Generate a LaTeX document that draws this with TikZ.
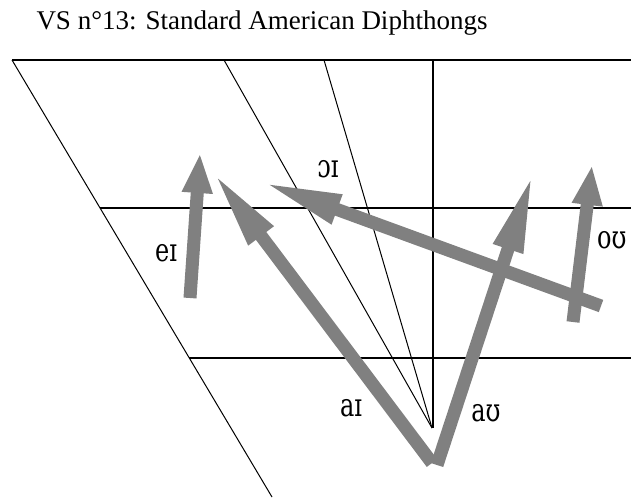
\documentclass[tikz,border=0pt]{standalone}
\usepackage{fontspec}
\setmainfont{Liberation Serif}
\newfontfamily\ipafont{DejaVu Serif}
\usepackage{graphicx}
\usetikzlibrary{arrows.meta}
\definecolor{glidegray}{HTML}{808080}
\newcommand{\vowelsym}[1]{\scalebox{0.75}[1]{#1}}

\begin{document}
\begin{tikzpicture}[x=1pt, y=-1pt,
  every node/.style={inner sep=0pt},
  chartline/.style={line width=1pt},
  levelline/.style={line width=1.4pt},
  glide/.style={draw=glidegray, line width=13pt, -{Triangle[length=40pt,width=28pt]}},
  longglide/.style={glide, -{Triangle[length=80pt,width=28pt]}},
  vowel/.style={font=\ipafont\fontsize{32}{32}\selectfont}]
  \useasboundingbox (0,0) rectangle (631,499);
  \node[font=\fontsize{27}{27}\selectfont, anchor=base] (title) at (262,29) {VS n°13: Standard American Diphthongs};

  % vowel chart
  \draw[levelline] (12,60) -- (631,60);
  \draw[levelline] (100,208) -- (631,208);
  \draw[levelline] (189,358) -- (631,358);
  \draw[chartline] (12,60) -- (272,497);
  \draw[chartline] (224,60) -- (432,428);
  \draw[chartline] (324,60) -- (432,428);
  \draw[levelline] (433,60) -- (433,428);

  % diphthong glides
  \coordinate (oi-start) at (601,306);
  \coordinate (oi-end) at (262,182);
  \coordinate (ai-start) at (432,463);
  \coordinate (ai-end) at (213,172);
  \coordinate (au-start) at (437,465);
  \coordinate (au-end) at (533,173);
  \coordinate (ei-start) at (190,298);
  \coordinate (ei-end) at (200,153);
  \coordinate (ou-start) at (573,322);
  \coordinate (ou-end) at (592,165);
  \draw[longglide] (oi-start) -- (oi-end);
  \draw[longglide] (ai-start) -- (ai-end);
  \draw[longglide] (au-start) -- (au-end);
  \draw[glide] (ei-start) -- (ei-end);
  \draw[glide] (ou-start) -- (ou-end);

  % labels
  \node[vowel] (ei-label) at (166,253) {\vowelsym{eɪ}};
  \node[vowel] (oi-label) at (328,169) {\vowelsym{ɔɪ}};
  \node[vowel] (ai-label) at (351,408) {\vowelsym{aɪ}};
  \node[vowel] (au-label) at (486,413) {\vowelsym{aʊ}};
  \node[vowel, anchor=west] (ou-label) at (597,240) {\vowelsym{oʊ}};
\end{tikzpicture}
\end{document}
